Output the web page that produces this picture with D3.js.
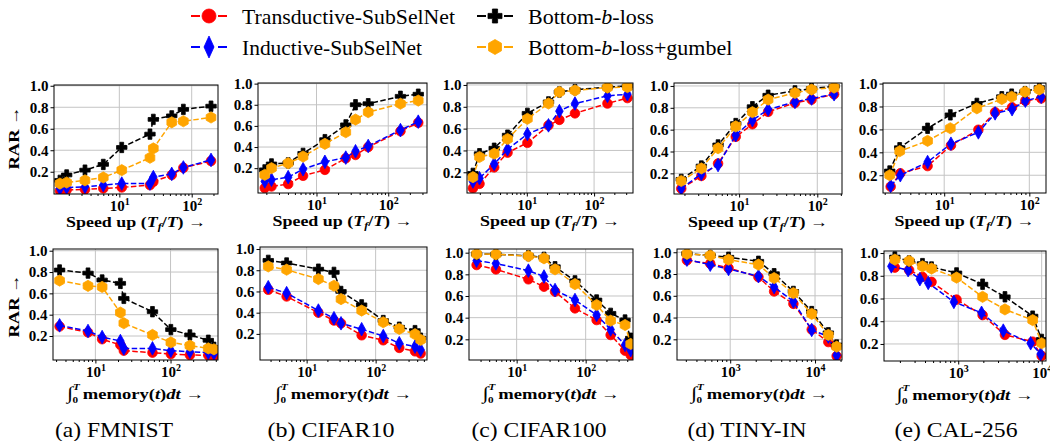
<!DOCTYPE html>
<html><head><meta charset="utf-8">
<script src="https://cdn.jsdelivr.net/npm/d3@7"></script>
<style>body{margin:0;background:#fff} svg{display:block}</style>
</head><body><svg id="c" width="1050" height="441"></svg>
<script>
// ---------------- DATA ----------------
const methods = ["Transductive-SubSelNet", "Inductive-SubSelNet", "Bottom-b-loss", "Bottom-b-loss+gumbel"];
const datasets = ["FMNIST", "CIFAR10", "CIFAR100", "TINY-IN", "CAL-256"];
const panelLetters = ["a", "b", "c", "d", "e"];
const yTickValues = [0.2, 0.4, 0.6, 0.8, 1.0];

// Row 1: speed up (T_f/T) vs RAR
const aSpeedX = [1.51, 1.87, 3.35, 6.0, 10.8, 26.5, 29.5, 53, 76.7, 185];
const aSpeedTrans = [0.023, 0.03, 0.035, 0.045, 0.054, 0.076, 0.107, 0.17, 0.237, 0.30];
const aSpeedInd = [0.045, 0.054, 0.06, 0.076, 0.09, 0.09, 0.15, 0.18, 0.24, 0.31];
const aSpeedBot = [0.12, 0.17, 0.215, 0.268, 0.426, 0.55, 0.687, 0.72, 0.78, 0.81];
const aSpeedGum = [0.09, 0.10, 0.12, 0.147, 0.215, 0.33, 0.417, 0.66, 0.67, 0.705];

const bSpeedX = [1.90, 2.36, 4.03, 6.5, 13.1, 25.6, 35, 52.6, 148, 262];
const bSpeedTrans = [0.012, 0.027, 0.05, 0.128, 0.184, 0.294, 0.325, 0.40, 0.55, 0.63];
const bSpeedInd = [0.075, 0.09, 0.115, 0.19, 0.26, 0.30, 0.36, 0.41, 0.56, 0.64];
const bSpeedBot = [0.184, 0.24, 0.25, 0.34, 0.47, 0.61, 0.80, 0.81, 0.88, 0.90];
const bSpeedGum = [0.137, 0.20, 0.247, 0.31, 0.43, 0.54, 0.66, 0.73, 0.81, 0.84];

const cSpeedX = [1.58, 1.98, 3.27, 5.17, 10.2, 21, 30.5, 52, 158, 313];
const cSpeedTrans = [0.054, 0.094, 0.245, 0.38, 0.47, 0.63, 0.68, 0.74, 0.83, 0.88];
const cSpeedInd = [0.115, 0.145, 0.276, 0.41, 0.55, 0.63, 0.76, 0.83, 0.90, 0.915];
const cSpeedBot = [0.19, 0.37, 0.42, 0.54, 0.74, 0.845, 0.936, 0.957, 0.98, 0.99];
const cSpeedGum = [0.155, 0.34, 0.37, 0.505, 0.69, 0.83, 0.936, 0.95, 0.976, 0.98];

const dSpeedX = [1.82, 3.29, 5.38, 9.06, 14.8, 23.5, 51.8, 84.5, 164];
const dSpeedTrans = [0.06, 0.176, 0.29, 0.535, 0.65, 0.763, 0.845, 0.875, 0.924];
const dSpeedInd = [0.063, 0.194, 0.276, 0.55, 0.687, 0.784, 0.854, 0.885, 0.924];
const dSpeedBot = [0.145, 0.267, 0.46, 0.656, 0.81, 0.915, 0.955, 0.976, 0.997];
const dSpeedGum = [0.13, 0.245, 0.43, 0.63, 0.76, 0.875, 0.936, 0.967, 0.985];

const eSpeedXSub = [2.35, 3.05, 6.38, 12.0, 25.2, 39.6, 62.7, 89.8, 138];
const eSpeedXBase = [2.29, 3.0, 6.38, 11.8, 24.2, 47.5, 62, 89, 131];
const eSpeedTrans = [0.10, 0.217, 0.28, 0.46, 0.597, 0.75, 0.793, 0.85, 0.87];
const eSpeedInd = [0.107, 0.2, 0.315, 0.475, 0.574, 0.74, 0.776, 0.85, 0.885];
const eSpeedBot = [0.237, 0.44, 0.61, 0.727, 0.827, 0.885, 0.908, 0.93, 0.965];
const eSpeedGum = [0.2, 0.41, 0.50, 0.61, 0.784, 0.865, 0.885, 0.928, 0.948];

// Row 2: integral of memory vs RAR
const aMemX = [3.34, 7.98, 12.3, 21.5, 23.9, 57.5, 101, 181, 318, 378];
const aMemTrans = [0.29, 0.234, 0.17, 0.116, 0.0625, 0.044, 0.031, 0.022, 0.019, 0.0125];
const aMemInd = [0.30, 0.247, 0.19, 0.153, 0.084, 0.084, 0.0625, 0.053, 0.044, 0.0375];
const aMemBot = [0.819, 0.79, 0.725, 0.694, 0.553, 0.428, 0.26, 0.21, 0.16, 0.094];
const aMemGum = [0.72, 0.67, 0.66, 0.42, 0.32, 0.21, 0.14, 0.11, 0.084, 0.075];

const bMemX = [2.78, 5.13, 14.8, 24.9, 31.5, 62.7, 129, 220, 372, 449];
const bMemTrans = [0.616, 0.553, 0.40, 0.326, 0.30, 0.187, 0.14, 0.068, 0.036, 0.015];
const bMemInd = [0.64, 0.584, 0.42, 0.348, 0.30, 0.244, 0.18, 0.112, 0.08, 0.05];
const bMemBot = [0.893, 0.868, 0.81, 0.78, 0.60, 0.474, 0.326, 0.263, 0.231, 0.16];
const bMemGum = [0.836, 0.805, 0.717, 0.654, 0.528, 0.42, 0.31, 0.247, 0.197, 0.144];

const cMemX = [2.63, 5.01, 14.8, 24.9, 36, 70, 144, 230, 372, 449];
const cMemTrans = [0.886, 0.846, 0.754, 0.686, 0.64, 0.486, 0.378, 0.24, 0.095, 0.055];
const cMemInd = [0.926, 0.90, 0.834, 0.78, 0.655, 0.563, 0.425, 0.29, 0.148, 0.10];
const cMemBot = [0.988, 0.985, 0.972, 0.957, 0.87, 0.74, 0.563, 0.44, 0.378, 0.21];
const cMemGum = [0.988, 0.985, 0.969, 0.948, 0.846, 0.71, 0.517, 0.372, 0.332, 0.157];

const dMemX = [309, 582, 956, 2153, 3296, 5560, 9140, 14360, 17990];
const dMemTrans = [0.926, 0.895, 0.855, 0.772, 0.64, 0.526, 0.29, 0.175, 0.046];
const dMemInd = [0.932, 0.886, 0.846, 0.78, 0.68, 0.548, 0.286, 0.225, 0.055];
const dMemBot = [0.988, 0.97, 0.954, 0.917, 0.803, 0.64, 0.455, 0.26, 0.148];
const dMemGum = [0.985, 0.97, 0.932, 0.886, 0.763, 0.625, 0.434, 0.24, 0.132];

const eMemX = [174, 258, 373, 479, 955, 1959, 3631, 7798, 10000];
const eMemXInd = [158, 251, 347, 437, 887, 1905, 3467, 7382, 9727];
const eMemTrans = [0.872, 0.85, 0.79, 0.746, 0.59, 0.454, 0.28, 0.22, 0.095];
const eMemInd = [0.883, 0.85, 0.77, 0.737, 0.57, 0.474, 0.317, 0.206, 0.112];
const eMemBot = [0.965, 0.93, 0.907, 0.877, 0.825, 0.726, 0.615, 0.445, 0.24];
const eMemGum = [0.942, 0.93, 0.883, 0.863, 0.784, 0.615, 0.504, 0.41, 0.206];

// series per panel: [x arrays per method], [y arrays per method]
const speedPanels = [
  { xs: [aSpeedX, aSpeedX, aSpeedX, aSpeedX], ys: [aSpeedTrans, aSpeedInd, aSpeedBot, aSpeedGum] },
  { xs: [bSpeedX, bSpeedX, bSpeedX, bSpeedX], ys: [bSpeedTrans, bSpeedInd, bSpeedBot, bSpeedGum] },
  { xs: [cSpeedX, cSpeedX, cSpeedX, cSpeedX], ys: [cSpeedTrans, cSpeedInd, cSpeedBot, cSpeedGum] },
  { xs: [dSpeedX, dSpeedX, dSpeedX, dSpeedX], ys: [dSpeedTrans, dSpeedInd, dSpeedBot, dSpeedGum] },
  { xs: [eSpeedXSub, eSpeedXSub, eSpeedXBase, eSpeedXBase], ys: [eSpeedTrans, eSpeedInd, eSpeedBot, eSpeedGum] }
];
const memPanels = [
  { xs: [aMemX, aMemX, aMemX, aMemX], ys: [aMemTrans, aMemInd, aMemBot, aMemGum] },
  { xs: [bMemX, bMemX, bMemX, bMemX], ys: [bMemTrans, bMemInd, bMemBot, bMemGum] },
  { xs: [cMemX, cMemX, cMemX, cMemX], ys: [cMemTrans, cMemInd, cMemBot, cMemGum] },
  { xs: [dMemX, dMemX, dMemX, dMemX], ys: [dMemTrans, dMemInd, dMemBot, dMemGum] },
  { xs: [eMemX, eMemXInd, eMemX, eMemX], ys: [eMemTrans, eMemInd, eMemBot, eMemGum] }
];

// ---------------- LAYOUT / STYLE ----------------
const topRects = [[54,218,85,194],[258,427,83,193],[467,633,83,193],[674,842,83,194],[883,1046,83,193]];
const botRects = [[53,218,249,360],[260,427,247,360],[469,633,249,360],[677,842,249,360],[884,1046,251,361]];
const topXDom = [[1.25,231],[1.53,347],[1.29,379],[1.47,207],[1.91,157]];
const botXDom = [[2.73,428],[2.11,555],[2.04,485],[236,20800],[129,11270]];
const topYDom = [[-0.007,1.007],[-0.035,1.006],[0.01,1.018],[0.011,1.027],[0.045,1.005]];
const botYDom = [[-0.025,1.016],[-0.046,1.019],[0.009,1.034],[0.01,1.03],[0.05,1.018]];
const captionX = [114, 331, 539, 747, 956];
const captionLen = [118, 127, 135, 119, 123];
const legendLen = [213, 180, null, null];

const colors = ["#ff0000", "#0000ff", "#000000", "#ffa500"];

// pick an installed serif face if there is one
function pickFont(cands){
  const c = document.createElement("canvas").getContext("2d");
  const s = "Transductive-SubSelNet 0.8 10 RAR";
  c.font = "40px monospace"; const b1 = c.measureText(s).width;
  c.font = "40px sans-serif"; const b2 = c.measureText(s).width;
  for(const f of cands){
    c.font = `40px "${f}", monospace`; const w1 = c.measureText(s).width;
    c.font = `40px "${f}", sans-serif`; const w2 = c.measureText(s).width;
    if(Math.abs(w1-w2)<0.01 && (Math.abs(w1-b1)>0.01 || Math.abs(w2-b2)>0.01)) return f;
  }
  return null;
}
const serifFace = pickFont(["Liberation Serif","DejaVu Serif","Tinos","Times New Roman","Noto Serif","FreeSerif","Nimbus Roman","Nimbus Roman No9 L","STIXGeneral","C059","Century Schoolbook L","Bitstream Charter","Georgia"]);
const SERIF = serifFace ? `"${serifFace}", serif` : "serif";

function circlePath(r){ return `M${r},0A${r},${r},0,1,1,${-r},0A${r},${r},0,1,1,${r},0Z`; }
function diamondPath(w,h){ return `M0,${-h}L${w},0L0,${h}L${-w},0Z`; }
function plusPath(s,w){ return `M${-w},${-s}H${w}V${-w}H${s}V${w}H${w}V${s}H${-w}V${w}H${-s}V${-w}H${-w}Z`; }
function hexPath(r){ let p=""; for(let k=0;k<6;k++){const a=(-90+60*k)*Math.PI/180; p+=(k?"L":"M")+(r*Math.cos(a)).toFixed(2)+","+(r*Math.sin(a)).toFixed(2);} return p+"Z"; }
const markerPaths = [circlePath(4.8), diamondPath(3.8,6.8), plusPath(5.2,1.9), hexPath(5.6)];
const legendMarkers = [circlePath(7), diamondPath(5,11), plusPath(7,2.6), hexPath(7.5)];

const svg = d3.select("#c");
svg.append("rect").attr("width",1050).attr("height",441).attr("fill","#fff");

function decadesIn(d){
  const out=[];
  for(let k=Math.floor(Math.log10(d[0])); k<=Math.ceil(Math.log10(d[1])); k++){
    const v=Math.pow(10,k); if(v>=d[0]*0.999 && v<=d[1]*1.001) out.push(v);
  }
  return out;
}
function minorsIn(d){
  const out=[];
  for(let k=Math.floor(Math.log10(d[0])); k<=Math.ceil(Math.log10(d[1])); k++){
    for(let m=2;m<=9;m++){ const v=m*Math.pow(10,k); if(v>=d[0] && v<=d[1]) out.push(v); }
  }
  return out;
}

let clipId = 0;
function drawPanel(panel, rect, xd, yd, row){
  const [x0,x1,y0,y1] = rect;
  const x = d3.scaleLog().domain(xd).range([x0,x1]);
  const y = d3.scaleLinear().domain(yd).range([y1,y0]);
  const g = svg.append("g");
  const decs = decadesIn(xd);
  const yt = yTickValues.filter(v => v>=yd[0] && v<=yd[1]+1e-9);

  // grid
  g.append("g").selectAll("line").data(decs).join("line")
    .attr("x1",d=>x(d)).attr("x2",d=>x(d)).attr("y1",y0).attr("y2",y1)
    .attr("stroke","#c4c4c4").attr("stroke-width",1);
  g.append("g").selectAll("line").data(yt).join("line")
    .attr("x1",x0).attr("x2",x1).attr("y1",d=>y(d)).attr("y2",d=>y(d))
    .attr("stroke","#c4c4c4").attr("stroke-width",1);

  // clip
  const cid = "clip"+(clipId++);
  svg.append("clipPath").attr("id",cid).append("rect")
    .attr("x",x0).attr("y",y0).attr("width",x1-x0).attr("height",y1-y0);
  const data = g.append("g").attr("clip-path",`url(#${cid})`);
  for(let s=0;s<4;s++){
    const pts = panel.ys[s].map((v,i)=>[panel.xs[s][i], v]);
    data.append("path").datum(pts)
      .attr("d", d3.line().x(d=>x(d[0])).y(d=>y(d[1])))
      .attr("fill","none").attr("stroke",colors[s]).attr("stroke-width",1.5)
      .attr("stroke-dasharray","5.5,2.4");
    data.append("g").selectAll("path").data(pts).join("path")
      .attr("transform",d=>`translate(${x(d[0])},${y(d[1])})`)
      .attr("d",markerPaths[s]).attr("fill",colors[s]).attr("stroke",colors[s]).attr("stroke-width",0.8);
  }

  // frame
  g.append("rect").attr("x",x0).attr("y",y0).attr("width",x1-x0).attr("height",y1-y0)
    .attr("fill","none").attr("stroke","#000").attr("stroke-width",1);

  // x axis major
  const xa = g.append("g").attr("transform",`translate(0,${y1})`)
    .call(d3.axisBottom(x).tickValues(decs).tickSize(3.5).tickPadding(3).tickFormat(d=>String(d)));
  xa.select(".domain").remove();
  xa.selectAll(".tick text").each(function(d){
    const t=d3.select(this); const e=Math.round(Math.log10(d));
    t.text(null).attr("font-family",SERIF).attr("font-weight","bold").attr("font-size",15).attr("fill","#000");
    t.append("tspan").text("10");
    t.append("tspan").attr("dy",-6).attr("font-size",10).text(String(e));
  });
  // x axis minor
  const xm = g.append("g").attr("transform",`translate(0,${y1})`)
    .call(d3.axisBottom(x).tickValues(minorsIn(xd)).tickSize(2).tickFormat(""));
  xm.select(".domain").remove();

  // y axis
  const ya = g.append("g").attr("transform",`translate(${x0},0)`)
    .call(d3.axisLeft(y).tickValues(yt).tickSize(3.5).tickPadding(2).tickFormat(d3.format(".1f")));
  ya.select(".domain").remove();
  ya.selectAll(".tick text").attr("font-family",SERIF).attr("font-weight","bold").attr("font-size",15).attr("fill","#000");

  // x label
  const cx = (x0+x1)/2;
  if(row===0){
    const t = g.append("text").attr("x",cx).attr("y",y1+33).attr("text-anchor","middle")
      .attr("font-family",SERIF).attr("font-weight","bold").attr("font-size",15)
      .attr("textLength",140).attr("lengthAdjust","spacingAndGlyphs");
    t.append("tspan").text("Speed up (");
    t.append("tspan").attr("font-style","italic").text("T");
    t.append("tspan").attr("font-style","italic").attr("font-size",10).attr("dy",3).text("f");
    t.append("tspan").attr("dy",-3).text("/");
    t.append("tspan").attr("font-style","italic").text("T");
    t.append("tspan").text(") \u2192");
  } else {
    const t = g.append("text").attr("x",cx).attr("y",y1+39).attr("text-anchor","middle")
      .attr("font-family",SERIF).attr("font-weight","bold").attr("font-size",15)
      .attr("textLength",137).attr("lengthAdjust","spacingAndGlyphs");
    t.append("tspan").attr("font-weight","normal").attr("font-size",18).text("\u222B");
    t.append("tspan").attr("font-style","italic").attr("font-size",9).attr("dy",-9).text("T");
    t.append("tspan").attr("font-size",9).attr("dx",-6).attr("dy",13).text("0");
    t.append("tspan").attr("dy",-4).text(" memory(");
    t.append("tspan").attr("font-style","italic").text("t");
    t.append("tspan").text(")");
    t.append("tspan").attr("font-style","italic").text("dt");
    t.append("tspan").text(" \u2192");
  }
}

for(let i=0;i<5;i++){
  drawPanel(speedPanels[i], topRects[i], topXDom[i], topYDom[i], 0);
  drawPanel(memPanels[i], botRects[i], botXDom[i], botYDom[i], 1);
  svg.append("text").attr("x",captionX[i]).attr("y",437).attr("text-anchor","middle")
    .attr("font-family",SERIF).attr("font-size",21)
    .attr("textLength",captionLen[i]).attr("lengthAdjust","spacingAndGlyphs")
    .text(`(${panelLetters[i]}) ${datasets[i]}`);
}

// y labels
[[14,138],[14,306]].forEach(([lx,ly])=>{
  svg.append("text").attr("transform",`translate(${lx},${ly}) rotate(-90)`)
    .attr("text-anchor","middle").attr("dy","0.35em")
    .attr("font-family",SERIF).attr("font-weight","bold").attr("font-size",15)
    .attr("textLength",63).attr("lengthAdjust","spacingAndGlyphs").text("RAR \u2192");
});

// legend
const legendPos = [[209,16],[209,47],[495,16],[495,47]];
const legendTextX = [242,242,528,528];
methods.forEach((m,s)=>{
  const [mx,my] = legendPos[s];
  svg.append("line").attr("x1",mx-18).attr("x2",mx+18).attr("y1",my).attr("y2",my)
    .attr("stroke",colors[s]).attr("stroke-width",2.2).attr("stroke-dasharray","9,4.5");
  svg.append("path").attr("d",legendMarkers[s]).attr("transform",`translate(${mx},${my})`)
    .attr("fill",colors[s]).attr("stroke",colors[s]).attr("stroke-width",0.8);
  const t = svg.append("text").attr("x",legendTextX[s]).attr("y",my+7.5)
    .attr("font-family",SERIF).attr("font-size",22);
  if(legendLen[s]) t.attr("textLength",legendLen[s]).attr("lengthAdjust","spacingAndGlyphs");
  if(m.indexOf("-b-")>=0){
    const parts = m.split("-b-");
    t.append("tspan").text(parts[0]+"-");
    t.append("tspan").attr("font-style","italic").text("b");
    t.append("tspan").text("-"+parts[1]);
  } else t.text(m);
});
</script></body></html>
